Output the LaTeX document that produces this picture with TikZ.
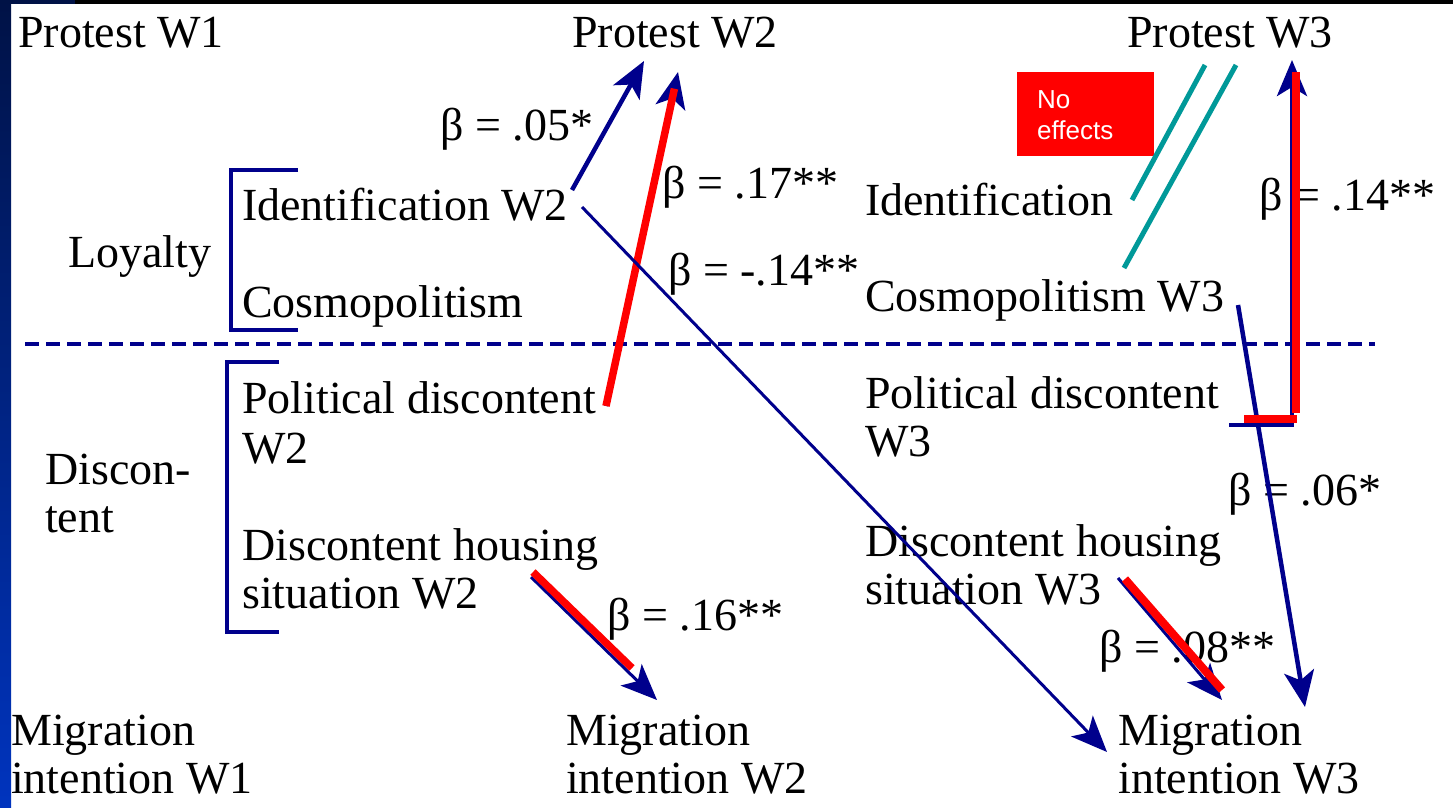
\documentclass[tikz,border=0pt]{standalone}
\usepackage{fontspec}
\setmainfont{Liberation Serif}
\newfontfamily\boxsans{Liberation Sans}
\usetikzlibrary{arrows.meta,calc}
\definecolor{navy}{RGB}{0,0,140}
\definecolor{effred}{RGB}{255,0,0}
\definecolor{noeffteal}{RGB}{0,153,153}
\definecolor{stripdark}{RGB}{0,18,70}
\definecolor{striplight}{RGB}{0,52,190}
\begin{document}
\begin{tikzpicture}[x=1pt,y=-1pt,
  txt/.style={anchor=base west, inner sep=0pt, font=\fontsize{46}{48}\selectfont},
  head/.style={-{Stealth[length=36pt,width=30pt,inset=9pt]}},
  effarrow/.style={draw=navy, line width=4.5pt, head},
  thinarrow/.style={draw=navy, line width=3pt, head},
  redmark/.style={draw=effred, line width=7.5pt},
  nullmark/.style={draw=noeffteal, line width=5pt},
  bracket/.style={draw=navy, line width=3.5pt},
]
% page and frame
\useasboundingbox (0,0) rectangle (1453,807);
\fill[white] (0,0) rectangle (1453,807);
\shade[top color=stripdark, bottom color=striplight] (0,0) rectangle (11,807);
\fill[black] (11,0) rectangle (1453,4);
\fill[stripdark] (0,0) rectangle (75,4);

% wave headers
\node[txt] (p1) at (18,47) {Protest W1};
\node[txt] (p2) at (572,47) {Protest W2};
\node[txt] (p3) at (1127,47) {Protest W3};

% group labels and brackets
\node[txt] (loy) at (68,267) {Loyalty};
\node[txt] (dis) at (45,484) {Discon-};
\node[txt] (disb) at (45,532) {tent};
\draw[bracket] (298,170) -- (231,170) -- (231,330) -- (298,330);
\draw[bracket] (279,362) -- (227,362) -- (227,632) -- (279,632);

% wave 2 predictors
\node[txt] (id2) at (242,220) {Identification W2};
\node[txt] (cos2) at (242,317) {Cosmopolitism};
\node[txt] (pol2) at (242,413) {Political discontent};
\node[txt] (pol2b) at (242,463) {W2};
\node[txt] (hou2) at (242,560) {Discontent housing};
\node[txt] (hou2b) at (242,608) {situation W2};

% wave 3 predictors
\node[txt] (id3) at (865,215) {Identification};
\node[txt] (cos3) at (865,311) {Cosmopolitism W3};
\node[txt] (pol3) at (865,408) {Political discontent};
\node[txt] (pol3b) at (865,456) {W3};
\node[txt] (hou3) at (865,556) {Discontent housing};
\node[txt] (hou3b) at (865,604) {situation W3};

% outcomes
\node[txt] (m1) at (11,745) {Migration};
\node[txt] (m1b) at (11,793) {intention W1};
\node[txt] (m2) at (566,745) {Migration};
\node[txt] (m2b) at (566,793) {intention W2};
\node[txt] (m3) at (1118,745) {Migration};
\node[txt] (m3b) at (1118,793) {intention W3};

% loyalty / discontent divider
\draw[navy, line width=4pt, dash pattern=on 14pt off 7pt] (25,344) -- (1375,344);

% coefficients
\node[txt] (b1) at (440,140) {β = .05*};
\node[txt] (b2) at (662,198) {β = .17**};
\node[txt] (b3) at (668,285) {β = -.14**};
\node[txt] (b4) at (607,630) {β = .16**};
\node[txt] (b5) at (1259,210) {β = .14**};
\node[txt] (b6) at (1228,505) {β = .06*};
\node[txt] (b7) at (1099,662) {β = .08**};

% "no effects" note
\node[fill=effred, inner sep=0pt, minimum width=137pt, minimum height=84pt, anchor=north west] (noeff) at (1017,72) {};
\node[anchor=base west, inner sep=0pt, text=white, font=\boxsans\fontsize{26}{30}\selectfont] (noeffa) at (1037,108) {No};
\node[anchor=base west, inner sep=0pt, text=white, font=\boxsans\fontsize{26}{30}\selectfont] (noeffb) at (1037,139) {effects};

% connector end points
\coordinate (id2o) at (572,190);
\coordinate (p2a) at (644,61);
\coordinate (pol2o) at (606,406);
\coordinate (p2b) at (678,72);
\coordinate (id2x) at (582,207);
\coordinate (m3a) at (1107,752);
\coordinate (hou2o) at (531,577);
\coordinate (m2a) at (657,700);
\coordinate (cos3o) at (1238,305);
\coordinate (m3b) at (1305,707);
\coordinate (pol3o) at (1229,425);
\coordinate (pol3c) at (1292,425);
\coordinate (p3a) at (1292,60);
\coordinate (hou3o) at (1118,578);
\coordinate (m3c) at (1222,700);
\coordinate (id3n) at (1132,200);
\coordinate (p3n) at (1205,65);
\coordinate (cos3n) at (1124,268);
\coordinate (p3m) at (1236,65);

% paths
\draw[effarrow] (id2o) -- (p2a);
\draw[effarrow] (pol2o) -- (p2b);
\draw[redmark] (pol2o) -- ($(p2b)!0.05!(pol2o)$);
\draw[thinarrow] (id2x) -- (m3a);
\draw[effarrow, line width=3pt] (hou2o) -- (m2a);
\draw[redmark] (533,572) -- (632,668);
\draw[effarrow] (cos3o) -- (m3b);
\draw[effarrow] (pol3o) -- (pol3c) -- (p3a);
\draw[redmark] (1244,419) -- (1297,419);
\draw[redmark] (1296,413) -- (1296,72);
\draw[effarrow, line width=3pt] (hou3o) -- (m3c);
\draw[redmark, line width=8pt] (1125,579) -- (1222,690);
\draw[nullmark] (id3n) -- (p3n);
\draw[nullmark] (cos3n) -- (p3m);
\end{tikzpicture}
\end{document}
